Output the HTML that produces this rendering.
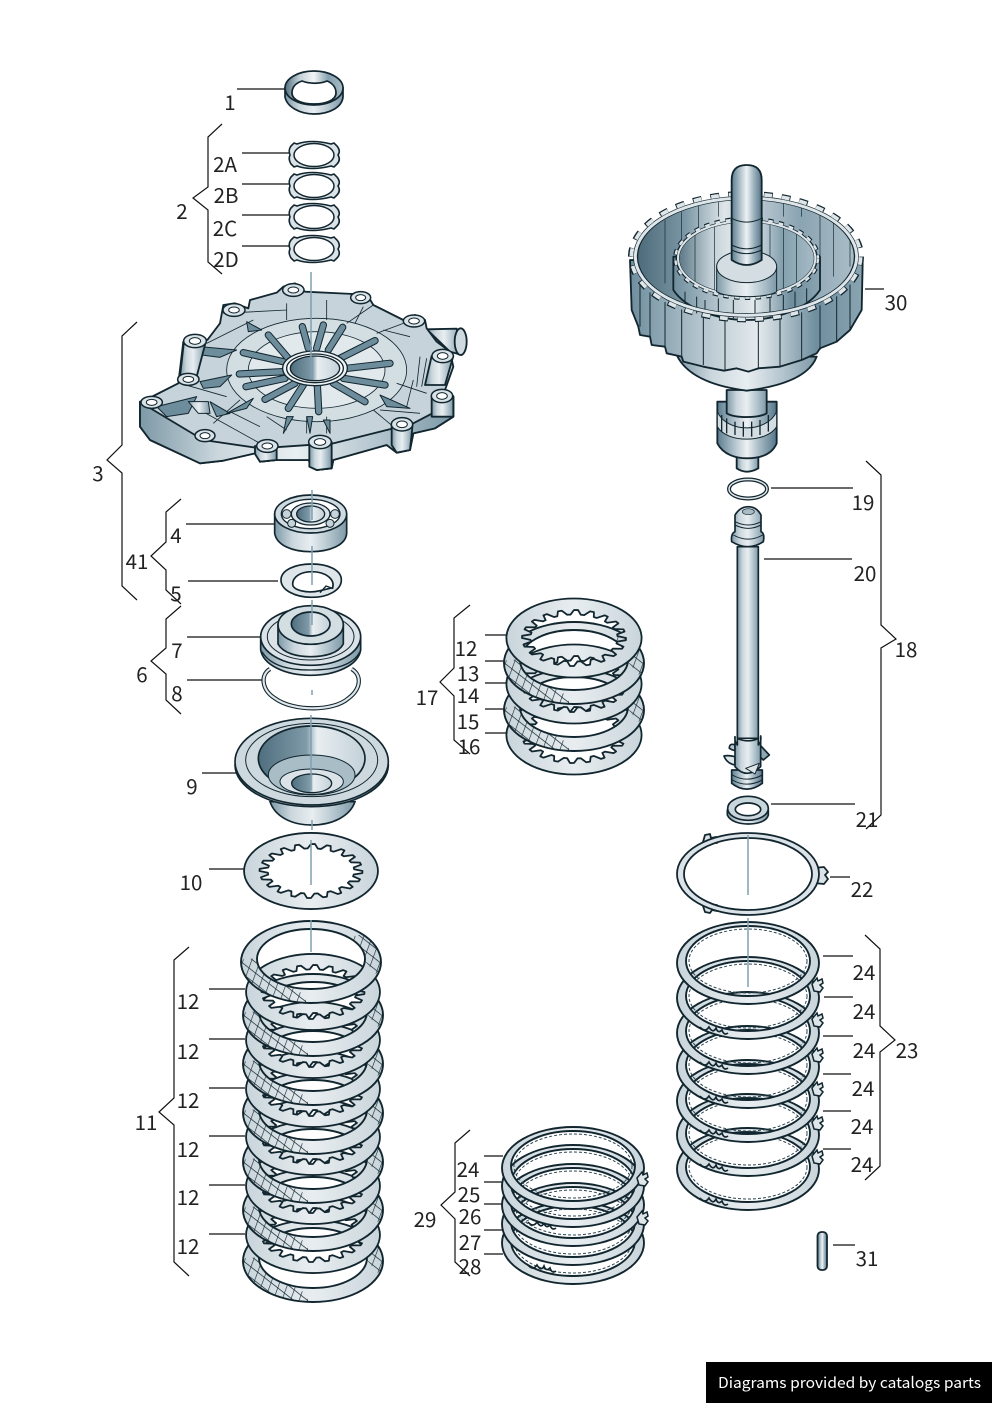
<!DOCTYPE html>
<html><head><meta charset="utf-8"><style>
html,body{margin:0;padding:0;background:#fff}
svg{display:block}
text{font-family:"Noto Sans CJK JP","Liberation Sans",sans-serif;font-size:20.5px;fill:#222;text-anchor:middle}
</style></head><body>
<svg width="992" height="1403" viewBox="0 0 992 1403" xmlns="http://www.w3.org/2000/svg">
<defs>
<linearGradient id="m"><stop offset="0" stop-color="#5d7d8e"/><stop offset=".25" stop-color="#a6bac5"/><stop offset=".5" stop-color="#eef2f4"/><stop offset=".72" stop-color="#a3b7c2"/><stop offset="1" stop-color="#55758a"/></linearGradient>
<linearGradient id="m2"><stop offset="0" stop-color="#7d99a7"/><stop offset=".25" stop-color="#cbd7dd"/><stop offset=".5" stop-color="#e8eef1"/><stop offset=".75" stop-color="#b5c6cf"/><stop offset="1" stop-color="#7d99a7"/></linearGradient>
<linearGradient id="d"><stop offset="0" stop-color="#4f6e7e"/><stop offset=".45" stop-color="#7f9aa8"/><stop offset=".55" stop-color="#e8eef1"/><stop offset="1" stop-color="#c3d1d8"/></linearGradient>
<linearGradient id="p"><stop offset="0" stop-color="#c9d5db"/><stop offset=".5" stop-color="#e8edf0"/><stop offset="1" stop-color="#c9d5db"/></linearGradient>
<linearGradient id="dr"><stop offset="0" stop-color="#6f8e9e"/><stop offset=".3" stop-color="#b3c4cd"/><stop offset=".55" stop-color="#e4eaed"/><stop offset=".8" stop-color="#6f8e9e"/><stop offset="1" stop-color="#8aa4b1"/></linearGradient>
<linearGradient id="cv"><stop offset="0" stop-color="#4d6b7b"/><stop offset=".22" stop-color="#7c97a5"/><stop offset=".4" stop-color="#dfe6ea"/><stop offset=".75" stop-color="#8ba4b2"/><stop offset="1" stop-color="#a9bdc7"/></linearGradient>
<linearGradient id="cv2"><stop offset="0" stop-color="#52707f"/><stop offset=".25" stop-color="#c3d0d7"/><stop offset=".5" stop-color="#f2f5f6"/><stop offset=".75" stop-color="#84a0ae"/><stop offset="1" stop-color="#a9bdc7"/></linearGradient>
<pattern id="h" patternUnits="userSpaceOnUse" width="8.5" height="8.5" patternTransform="rotate(38) skewX(18)"><path d="M0 0H9M0 0V9" stroke="#12262f" stroke-width="1.3" fill="none"/></pattern>
<clipPath id="hc"><path d="M-75,-2L-52,-4L-5,35L-5,45L-75,45zM40,-25L60,-30L75,5L65,12L48,-8z"/></clipPath>

<path id="bp" fill="url(#p)" fill-rule="evenodd" stroke="#12262f" stroke-width="1.8" vector-effect="non-scaling-stroke" stroke-linejoin="round" d="M-130,0a130,141 0 1,0 260,0a130,141 0 1,0 -260,0z
M100,0L99.7,7.8L83,13.1L81.7,19.6L95.1,30.9L92.4,38.3L74.8,38.1L71.6,43.9L80.9,58.8L76,64.9L59.4,59.4L54.5,63.9L58.8,80.9L52.2,85.3L38.1,74.8L32.1,77.6L30.9,95.1L23.3,97.2L13.1,83L6.6,83.7L0,100L-7.8,99.7L-13.1,83L-19.6,81.7L-30.9,95.1L-38.3,92.4L-38.1,74.8L-43.9,71.6L-58.8,80.9L-64.9,76L-59.4,59.4L-63.9,54.5L-80.9,58.8L-85.3,52.2L-74.8,38.1L-77.6,32.1L-95.1,30.9L-97.2,23.3L-83,13.1L-83.7,6.6L-100,0L-99.7,-7.8L-83,-13.1L-81.7,-19.6L-95.1,-30.9L-92.4,-38.3L-74.8,-38.1L-71.6,-43.9L-80.9,-58.8L-76,-64.9L-59.4,-59.4L-54.5,-63.9L-58.8,-80.9L-52.2,-85.3L-38.1,-74.8L-32.1,-77.6L-30.9,-95.1L-23.3,-97.2L-13.1,-83L-6.6,-83.7L0,-100L7.8,-99.7L13.1,-83L19.6,-81.7L30.9,-95.1L38.3,-92.4L38.1,-74.8L43.9,-71.6L58.8,-80.9L64.9,-76L59.4,-59.4L63.9,-54.5L80.9,-58.8L85.3,-52.2L74.8,-38.1L77.6,-32.1L95.1,-30.9L97.2,-23.3L83,-13.1L83.7,-6.6z"/>

<g id="ap">
<path d="M-70,0a70,41 0 1,0 140,0a70,41 0 1,0 -140,0zM-54,-3a54,30 0 1,0 108,0a54,30 0 1,0 -108,0z" fill="url(#p)" fill-rule="evenodd" stroke="#12262f" stroke-width="1.9"/>
<path d="M-70,0a70,41 0 1,0 140,0a70,41 0 1,0 -140,0zM-54,-3a54,30 0 1,0 108,0a54,30 0 1,0 -108,0z" fill="url(#h)" fill-rule="evenodd" clip-path="url(#hc)"/>
</g>

<g id="rg0">
<path d="M-71,0a71,41 0 1,0 142,0a71,41 0 1,0 -142,0zM-62,-2a62,35 0 1,0 124,0a62,35 0 1,0 -124,0z" fill="url(#p)" fill-rule="evenodd" stroke="#12262f" stroke-width="1.9"/>
<ellipse cx="0" cy="-2" rx="59" ry="32" fill="none" stroke="#2b4552" stroke-width="1" stroke-dasharray="3 2"/>
</g>
<g id="rtab"><path d="M64,21l5,-6l1,3l4,-2l1,4l-3,2l3,3l-3,4l-6,-1z" fill="#dfe6ea" stroke="#12262f" stroke-width="1.5"/></g>
<path id="stab" d="M-48,29q5,6 9,0q4,7 7,1q2,6 6,2q2,6 6,3" fill="none" stroke="#12262f" stroke-width="1.7"/>

<g id="sr">
<path d="M-23,-9l3,-3l3,1q14,-5 34,0l3,-1l3,3q4,5 1,9q3,5 -1,9l-3,3l-3,-1q-20,5 -34,0l-3,1l-3,-3q-3,-5 -1,-9q-2,-5 1,-9z" fill="#dbe3e8" stroke="#12262f" stroke-width="1.6"/>
<ellipse cx="0" cy="0" rx="20" ry="11.5" fill="#fff" stroke="#12262f" stroke-width="1.5"/>
</g>
</defs>

<!-- leader lines -->
<g stroke="#111" stroke-width="1.2" fill="none">
<path d="M237 89H285M242 153H290M242 184H290M242 215H290M242 246H290M186 524H275M188 581H278M187 637H261M187 680H262M202 773H236M209 869H245M209 989H245M209 1039H245M209 1088H245M209 1136H245M209 1185H245M209 1234H245M485 635H507M485 661H505M485 683H507M485 709H505M485 733H507M484 1156H503M484 1182H503M484 1204H503M484 1230H503M484 1254H503M865 289H884M771 488H853M764 559H852M771 804H855M830 877H850M823 956H853M824 997H853M823 1036H853M823 1074H851M823 1111H851M823 1149H851M833 1245H855"/>
<path d="M222 124L208 137V187L193 198L208 210V262L222 274"/>
<path d="M137 322L122 336V445L107 460L122 473V586L137 600"/>
<path d="M181 499L166 512V542L151 556L166 570V590L181 604"/>
<path d="M181 606L166 619V648L151 661L166 674V700L181 714"/>
<path d="M189 947L174 960V1098L159 1112L174 1125V1262L189 1276"/>
<path d="M470 605L454 618V668L440 682L454 696V740L470 754"/>
<path d="M470 1130L455 1143V1192L441 1205L455 1219V1262L470 1276"/>
<path d="M866 461L881 475V625L896 639L881 648V815L866 829"/>
<path d="M865 935L880 949V1026L895 1040L880 1052V1166L865 1180"/>
</g>

<!-- part 1 -->
<g stroke="#12262f" stroke-width="1.7">
<path d="M285,88V97C287,107 300,114 314,114C330,114 342,107 343,97V88Z" fill="url(#m2)"/>
<ellipse cx="314" cy="88" rx="29" ry="17" fill="url(#cv2)"/>
<path d="M292,93C292,87 296,83 302,81C310,84 320,84 327,81C332,83 336,87 336,93C336,100 326,104 314,104C302,104 292,100 292,93Z" fill="#fff"/>
</g>
<use href="#sr" transform="translate(314,155)"/><use href="#sr" transform="translate(314,186)"/><use href="#sr" transform="translate(314,217)"/><use href="#sr" transform="translate(314,249)"/>

<!-- cover part 3 -->
<g transform="translate(120,270) scale(.33333)" stroke="#12262f" stroke-width="5.5" stroke-linejoin="round">
<path d="M920,178L1010,176L1025,255L990,245Z" fill="url(#m2)"/>
<ellipse cx="1022" cy="215" rx="18" ry="40" fill="#cfdae0"/>
<path fill="#c6d3da" d="M60,395L100,378L175,340L190,215L225,195L262,210L300,160L310,105L345,100L385,115L390,90L470,68L490,50L525,40L555,65L700,72L745,80L760,105L850,150L885,135L915,150L920,175L950,215L990,245L1000,290L975,360L1000,380L1000,440L945,475L880,490L870,540L830,548L800,525L640,570L635,595L590,600L565,570L470,570L420,575L405,550L310,572L240,580L90,510L60,470Z"/>
<path fill="url(#m2)" d="M60,395L60,470L90,510L240,580L310,572L405,550L420,575L470,570L565,570L590,600L635,595L640,570L800,525L830,548L870,540L880,490L945,475L1000,440L1000,380L975,410L880,460L640,520L420,535L250,510L100,420Z"/>
<g stroke-width="2.5" fill="none">
<ellipse cx="590" cy="300" rx="270" ry="155" fill="#d3dee3"/>
<ellipse cx="590" cy="300" rx="205" ry="115" fill="#e2e9ec"/>
<path d="M260,220L400,150M310,130L500,120M760,105L680,160M850,160L770,190M240,420L420,520M760,420L820,470M880,330L860,410M180,340L320,380M500,100V150M620,90V150M730,110L705,160M440,440L500,480M560,440V490M620,440V490M360,390L280,460M330,425L420,470M790,180L870,200M830,340L920,370M780,420L900,430M900,260L890,350M920,265L905,350"/>
</g>
<g fill="#6d8c9c" stroke-width="3">
<path d="M110,410L230,380L205,430L140,440Z"/>
<path d="M240,230L350,240L300,262L245,255Z"/>
<path d="M240,335L335,315L300,350L250,355Z"/>
<path d="M380,155L425,180L385,185Z"/>
<path d="M270,395L330,430L290,440Z"/>
<path d="M780,375L870,415L800,410Z"/>
<path d="M320,430L400,385L380,415Z"/>
<path d="M500,440L520,440L490,490Z"/>
<path d="M560,440L578,440L570,490Z"/>
<path d="M610,450L630,450L630,490Z"/>
</g>
<g fill="none" stroke-linecap="round">
<path stroke="#12262f" stroke-width="22" d="M505,265L445,195M490,275L370,248M490,305L358,312M495,325L378,350M525,340L435,388M550,345L505,415M592,345L596,425M640,340L735,395M670,325L795,345M680,295L810,280M660,265L765,212M625,240L668,172M590,235L610,165M565,235L547,170"/>
<path stroke="#6d8c9c" stroke-width="16" d="M505,265L445,195M490,275L370,248M490,305L358,312M495,325L378,350M525,340L435,388M550,345L505,415M592,345L596,425M640,340L735,395M670,325L795,345M680,295L810,280M660,265L765,212M625,240L668,172M590,235L610,165M565,235L547,170"/>
</g>
<ellipse cx="585" cy="295" rx="97" ry="52" fill="#eef2f4" stroke-width="4"/>
<ellipse cx="585" cy="295" rx="85" ry="43" fill="#fff" stroke-width="4"/>
<ellipse cx="585" cy="295" rx="74" ry="37" fill="url(#d)" stroke-width="4"/>
<g>
<path d="M568,516V590L590,600L635,595V516Z" fill="url(#m2)"/>
<path d="M405,528V552L420,575L470,570V528Z" fill="url(#m2)"/>
<path d="M815,463V525L830,548L870,540L878,463Z" fill="url(#m2)"/>
<path d="M935,378V440L1000,440V378Z" fill="url(#m2)"/>
<path d="M192,213L180,320H230L258,213Z" fill="url(#m2)"/>
<path d="M935,258L915,345H975L1000,258Z" fill="url(#m2)"/>
<path d="M205,395L235,430H270L265,395Z" fill="url(#m2)" stroke-width="3"/>
</g>
<g fill="#d9e2e7" stroke-width="4.5">
<ellipse cx="520" cy="60" rx="32" ry="19"/><ellipse cx="722" cy="83" rx="30" ry="18"/><ellipse cx="882" cy="153" rx="32" ry="18"/><ellipse cx="968" cy="258" rx="32" ry="20"/><ellipse cx="966" cy="378" rx="32" ry="20"/><ellipse cx="846" cy="463" rx="32" ry="20"/><ellipse cx="600" cy="516" rx="34" ry="20"/><ellipse cx="442" cy="528" rx="32" ry="19"/><ellipse cx="255" cy="497" rx="30" ry="18"/><ellipse cx="95" cy="397" rx="32" ry="18"/><ellipse cx="205" cy="328" rx="32" ry="18"/><ellipse cx="225" cy="213" rx="34" ry="20"/><ellipse cx="342" cy="120" rx="33" ry="19"/>
</g>
<g fill="#fff" stroke-width="3">
<ellipse cx="520" cy="60" rx="16" ry="9"/><ellipse cx="722" cy="83" rx="15" ry="9"/><ellipse cx="882" cy="153" rx="16" ry="9"/><ellipse cx="968" cy="258" rx="16" ry="10"/><ellipse cx="966" cy="378" rx="16" ry="10"/><ellipse cx="846" cy="463" rx="16" ry="10"/><ellipse cx="600" cy="516" rx="17" ry="10"/><ellipse cx="442" cy="528" rx="16" ry="9"/><ellipse cx="255" cy="497" rx="15" ry="9"/><ellipse cx="95" cy="397" rx="16" ry="9"/><ellipse cx="205" cy="328" rx="16" ry="9"/><ellipse cx="225" cy="213" rx="17" ry="10"/><ellipse cx="342" cy="120" rx="16" ry="9"/>
</g>
</g>

<!-- parts 4-9 -->
<g transform="translate(220,490) scale(.33333)" stroke="#12262f" stroke-width="5">
<path d="M164,72V130C170,165 215,185 272,185C330,185 378,165 380,130V72Z" fill="url(#m2)"/>
<ellipse cx="272" cy="72" rx="108" ry="57" fill="#cfdae0"/>
<ellipse cx="272" cy="72" rx="88" ry="44" fill="#fff" stroke-width="4"/>
<g fill="#c6d3da" stroke-width="3"><circle cx="200" cy="72" r="13"/><circle cx="345" cy="72" r="13"/><circle cx="215" cy="100" r="12"/><circle cx="330" cy="100" r="12"/></g>
<ellipse cx="272" cy="72" rx="58" ry="33" fill="#dbe3e8" stroke-width="4"/>
<ellipse cx="272" cy="72" rx="42" ry="24" fill="url(#d)" stroke-width="4"/>
<path fill="#dfe6ea" fill-rule="evenodd" d="M183,270C183,240 225,222 275,222C325,222 364,240 364,270C364,300 325,322 275,322C225,322 183,300 183,270ZM218,282C218,300 260,312 300,302L338,293C345,270 320,245 275,245C240,245 218,262 218,282Z"/>
<path d="M300,308L318,288L340,296" fill="none" stroke-width="4"/>
<path d="M150,537C120,555 125,600 165,625C220,665 340,665 385,625C425,595 425,555 395,537" fill="none" stroke-width="13"/>
<path d="M150,537C120,555 125,600 165,625C220,665 340,665 385,625C425,595 425,555 395,537" fill="none" stroke="#dfe6ea" stroke-width="6.5"/>
<path d="M122,445V480C130,525 195,556 272,556C350,556 415,525 422,480V445Z" fill="url(#m2)"/>
<path d="M126,485C150,525 200,540 272,540C345,540 400,525 420,485" fill="none" stroke-width="4"/>
<ellipse cx="272" cy="440" rx="150" ry="86" fill="#dbe3e8"/>
<ellipse cx="272" cy="440" rx="130" ry="70" fill="none" stroke-width="3"/>
<path d="M174,405V462C190,490 230,500 272,500C315,500 355,490 370,462V405Z" fill="url(#m2)"/>
<ellipse cx="272" cy="405" rx="98" ry="58" fill="#d3dee3"/>
<ellipse cx="272" cy="402" rx="58" ry="36" fill="url(#d)"/>
<path d="M150,935C165,980 215,1005 275,1005C335,1005 390,980 405,935Z" fill="url(#m2)"/>
<path d="M45,825C45,890 140,950 275,950C410,950 505,890 505,825Z" fill="url(#m2)"/>
<ellipse cx="275" cy="815" rx="230" ry="130" fill="#cdd9df"/>
<ellipse cx="275" cy="810" rx="198" ry="110" fill="none" stroke-width="3"/>
<ellipse cx="275" cy="805" rx="160" ry="97" fill="url(#d)"/>
<ellipse cx="275" cy="855" rx="130" ry="60" fill="#a9bdc7" stroke-width="3"/>
<ellipse cx="275" cy="875" rx="95" ry="38" fill="#dbe3e8" stroke-width="3"/>
<ellipse cx="275" cy="880" rx="60" ry="28" fill="url(#d)" stroke-width="4"/>
</g>

<!-- carrier part 30 -->
<g transform="translate(620,150) scale(.33333)" stroke="#12262f" stroke-width="5.5" stroke-linejoin="round">
<path d="M350,900V955Q380,975 415,955V900Z" fill="url(#m2)"/>
<path d="M292,755V880C310,915 350,925 380,925C420,925 455,915 470,880V755Z" fill="url(#m)"/>
<path d="M292,785C320,850 440,850 470,785V830C440,880 320,880 292,830Z" fill="#d3dde2" stroke-width="3"/>
<path d="M305,795V845M320,805V850M345,815V855M370,815V860M395,815V860M420,810V855M445,795V845" fill="none" stroke-width="4"/>
<path d="M320,720V790C345,805 415,805 440,790V720Z" fill="url(#m2)"/>
<path d="M170,615Q210,700 380,722Q560,700 590,620Z" fill="url(#m2)"/>
<path d="M30,330L35,480L55,530L60,555L90,560L95,585L135,590L140,610L185,620L190,635L250,650L312,662L350,655L385,665L415,655L480,650L545,630L590,610L600,595L650,575L690,540L725,480L728,340Z" fill="url(#dr)"/>
<g stroke-width="3" fill="none">
<path d="M60,397V530M90,427V560M135,456V590M185,478V620M250,497V645M315,507V660M415,509V655M480,502V650M545,487V630M600,466V600M650,439V575M690,404V540"/>
</g>
<ellipse cx="378" cy="320" rx="325" ry="172" fill="url(#cv)" stroke-width="3"/>
<g stroke-width="2" fill="none">
<path d="M135,210V400M185,185V440M235,165V455M295,145V200M490,150V200M545,160V200M600,180V410M640,205V380M690,260V350"/>
</g>
<path d="M160,320V420C200,480 300,510 380,510C460,510 560,480 600,420V320Z" fill="url(#dr)"/>
<g stroke-width="3" fill="none"><path d="M195,425V470M230,440V490M255,450V495M295,445V500M340,450V505M405,450V505M450,440V500M490,435V495M525,425V485M560,415V465"/></g>
<ellipse cx="380" cy="325" rx="212" ry="115" fill="url(#cv2)" stroke-width="3"/>
<g stroke-width="2" fill="none"><path d="M225,250V400M283,222V430M450,222V430M490,230V420M530,250V400"/></g>
<!-- inner crown -->
<ellipse cx="380" cy="325" rx="206" ry="112" fill="none" stroke="#12262f" stroke-width="9"/>
<ellipse cx="380" cy="325" rx="216" ry="120" fill="none" stroke="#12262f" stroke-width="10" pathLength="1000" stroke-dasharray="15 15"/>
<ellipse cx="380" cy="325" rx="206" ry="112" fill="none" stroke="#dfe6ea" stroke-width="6"/>
<ellipse cx="380" cy="325" rx="214" ry="118" fill="none" stroke="#dfe6ea" stroke-width="7" pathLength="1000" stroke-dasharray="13 17" stroke-dashoffset="-1"/>
<!-- outer crown -->
<ellipse cx="378" cy="320" rx="332" ry="176" fill="none" stroke="#12262f" stroke-width="13"/>
<ellipse cx="378" cy="320" rx="347" ry="190" fill="none" stroke="#12262f" stroke-width="14" pathLength="1000" stroke-dasharray="15.6 15.65"/>
<ellipse cx="378" cy="320" rx="332" ry="176" fill="none" stroke="#dfe6ea" stroke-width="9"/>
<ellipse cx="378" cy="320" rx="344" ry="188" fill="none" stroke="#dfe6ea" stroke-width="11" pathLength="1000" stroke-dasharray="13.6 17.65" stroke-dashoffset="-1"/>
<!-- hub and shaft -->
<path d="M290,350V425C320,445 440,445 470,425V350Z" fill="url(#m2)" stroke-width="3"/>
<ellipse cx="380" cy="350" rx="90" ry="48" fill="#d3dde2" stroke-width="3"/>
<path d="M335,90V330Q380,360 425,330V90Q425,45 380,45Q335,45 335,90Z" fill="url(#m)"/>
<path d="M335,205Q380,228 425,205M335,285Q380,308 425,285M335,300Q380,322 425,300" fill="none" stroke-width="3"/>
</g>

<!-- 19, 20, 21 -->
<ellipse cx="748" cy="489" rx="19" ry="9.5" fill="#fff" stroke="#12262f" stroke-width="4"/>
<ellipse cx="748" cy="489" rx="19" ry="9.5" fill="none" stroke="#dfe6ea" stroke-width="1.5"/>
<g transform="translate(700,500) scale(.33333)" stroke="#12262f" stroke-width="5" stroke-linejoin="round">
<path d="M112,140V715L175,715V140Z" fill="url(#m2)"/>
<path d="M105,770Q85,765 72,768Q80,790 105,795Z" fill="#dfe6ea"/>
<path d="M105,735Q88,728 88,745Q95,750 105,752Z" fill="#b5c6cf"/>
<path d="M180,735L208,765L190,780L180,770Z" fill="#8fa7b3"/>
<path d="M95,810V850Q140,885 187,850V810Z" fill="url(#m)"/>
<path d="M97,825Q140,850 187,825M97,840Q140,865 187,840" fill="none" stroke-width="3"/>
<path d="M105,710Q103,725 112,735V715Q145,730 175,715V735Q185,725 182,708V800Q140,840 105,800Z" fill="url(#m2)"/>
<path d="M137,805L178,790L165,822Z" fill="#dfe6ea" stroke-width="3"/>
<path d="M95,125Q92,100 105,95V45Q120,20 145,20Q170,20 183,45V95Q195,100 190,125Q145,155 95,125Z" fill="url(#m2)"/>
<path d="M105,65Q145,85 183,65M105,75Q145,95 183,75M100,105Q145,130 188,105" fill="none" stroke-width="3"/>
<ellipse cx="145" cy="35" rx="18" ry="9" fill="#a9bdc7" stroke-width="2"/>
<path d="M82,930V945C90,965 120,972 145,972C170,972 200,965 205,945V930Z" fill="url(#m2)"/>
<ellipse cx="144" cy="925" rx="61" ry="36" fill="#c9d6dc"/>
<ellipse cx="144" cy="928" rx="38" ry="19" fill="#fff" stroke-width="5"/>
</g>

<!-- 22 -->
<g stroke="#12262f" stroke-width="1.8" stroke-linejoin="round">
<path d="M703,842l2,-7l5,-1l1,4l5,-1l1,6zM814,868l10,-1l4,5l-3,3l3,4l-4,5l-10,-1zM703,906l2,6l5,1l2,-3l5,1l0,-6z" fill="#dbe3e8"/>
<path d="M-71,0a71,41 0 1,0 142,0a71,41 0 1,0 -142,0zM-64,0a64,36 0 1,0 128,0a64,36 0 1,0 -128,0z" transform="translate(748,874)" fill="#dbe3e8" fill-rule="evenodd"/>
</g>

<!-- stack 23 -->
<use href="#rg0" transform="translate(748,1169)"/><use href="#stab" transform="translate(748,1169)"/>
<use href="#rg0" transform="translate(748,1135)"/><use href="#stab" transform="translate(748,1135)"/><use href="#rtab" transform="translate(748,1135)"/>
<use href="#rg0" transform="translate(748,1101)"/><use href="#stab" transform="translate(748,1101)"/><use href="#rtab" transform="translate(748,1101)"/>
<use href="#rg0" transform="translate(748,1067)"/><use href="#stab" transform="translate(748,1067)"/><use href="#rtab" transform="translate(748,1067)"/>
<use href="#rg0" transform="translate(748,1033)"/><use href="#stab" transform="translate(748,1033)"/><use href="#rtab" transform="translate(748,1033)"/>
<use href="#rg0" transform="translate(748,998)"/><use href="#stab" transform="translate(748,998)"/><use href="#rtab" transform="translate(748,998)"/>
<use href="#rg0" transform="translate(748,963)"/><use href="#rtab" transform="translate(748,963)"/>
<!-- stack 29 -->
<use href="#rg0" transform="translate(573,1243)"/><use href="#stab" transform="translate(576,1236)"/>
<use href="#rg0" transform="translate(573,1224)"/>
<use href="#rg0" transform="translate(573,1205)"/><use href="#stab" transform="translate(576,1193)"/><use href="#rtab" transform="translate(573,1196)"/>
<use href="#rg0" transform="translate(573,1186)"/>
<use href="#rg0" transform="translate(573,1168)"/><use href="#rtab" transform="translate(573,1157)"/>

<!-- disc 10 -->
<use href="#bp" transform="translate(311,871) scale(.515,.27)"/>

<!-- stack 11 -->
<use href="#ap" transform="translate(313,1261)"/>
<use href="#bp" transform="translate(313,1235) scale(.515,.27)"/>
<use href="#ap" transform="translate(313,1210)"/>
<use href="#bp" transform="translate(313,1186) scale(.515,.27)"/>
<use href="#ap" transform="translate(313,1162)"/>
<use href="#bp" transform="translate(313,1137) scale(.515,.27)"/>
<use href="#ap" transform="translate(313,1113)"/>
<use href="#bp" transform="translate(313,1089) scale(.515,.27)"/>
<use href="#ap" transform="translate(313,1064)"/>
<use href="#bp" transform="translate(313,1040) scale(.515,.27)"/>
<use href="#ap" transform="translate(313,1015)"/>
<use href="#bp" transform="translate(313,992) scale(.515,.27)"/>
<use href="#ap" transform="translate(311,962)"/>

<!-- stack 17 -->
<use href="#bp" transform="translate(574,735) scale(.52,.28)"/>
<use href="#ap" transform="translate(574,710)"/>
<use href="#bp" transform="translate(574,684) scale(.52,.28)"/>
<use href="#ap" transform="translate(574,663)"/>
<use href="#bp" transform="translate(574,638) scale(.52,.28)"/>

<!-- pin 31 -->
<rect x="817.5" y="1232" width="9.5" height="38" rx="4" fill="url(#m)" stroke="#12262f" stroke-width="1.8"/>

<!-- axis -->
<g stroke="#7fa0b0" stroke-width="1.5" fill="none">
<path d="M311 272V378M312 490V520M312 546V585M312 600V625M312 690V695M311 715V790M312 820V830M311 840V885M311 920V952M748 835V895M748 918V987"/>
</g>

<!-- labels -->
<text x="230" y="110">1</text><text x="225" y="172">2A</text><text x="226" y="203">2B</text><text x="225" y="236">2C</text><text x="226" y="267">2D</text><text x="182" y="219">2</text>
<text x="98" y="481">3</text><text x="176" y="543">4</text><text x="137" y="569">41</text><text x="176" y="601">5</text><text x="177" y="658">7</text><text x="142" y="682">6</text><text x="177" y="701">8</text><text x="192" y="794">9</text><text x="191" y="890">10</text><text x="146" y="1130">11</text>
<text x="188" y="1009">12</text><text x="188" y="1059">12</text><text x="188" y="1108">12</text><text x="188" y="1157">12</text><text x="188" y="1205">12</text><text x="188" y="1254">12</text>
<text x="427" y="705">17</text><text x="466" y="656">12</text><text x="468" y="681">13</text><text x="468" y="703">14</text><text x="468" y="729">15</text><text x="469" y="754">16</text>
<text x="425" y="1227">29</text><text x="468" y="1177">24</text><text x="469" y="1202">25</text><text x="470" y="1224">26</text><text x="470" y="1250">27</text><text x="470" y="1274">28</text>
<text x="896" y="310">30</text><text x="863" y="510">19</text><text x="865" y="581">20</text><text x="906" y="657">18</text><text x="867" y="827">21</text><text x="862" y="897">22</text><text x="907" y="1058">23</text>
<text x="864" y="980">24</text><text x="864" y="1019">24</text><text x="864" y="1058">24</text><text x="863" y="1096">24</text><text x="862" y="1134">24</text><text x="862" y="1172">24</text><text x="867" y="1266">31</text>

<!-- banner -->
<rect x="706" y="1362" width="286" height="41" fill="#000"/>
<text x="718" y="1388" style="font-size:15px;fill:#fff;text-anchor:start" textLength="263" lengthAdjust="spacingAndGlyphs">Diagrams provided by catalogs parts</text>
</svg>
</body></html>
